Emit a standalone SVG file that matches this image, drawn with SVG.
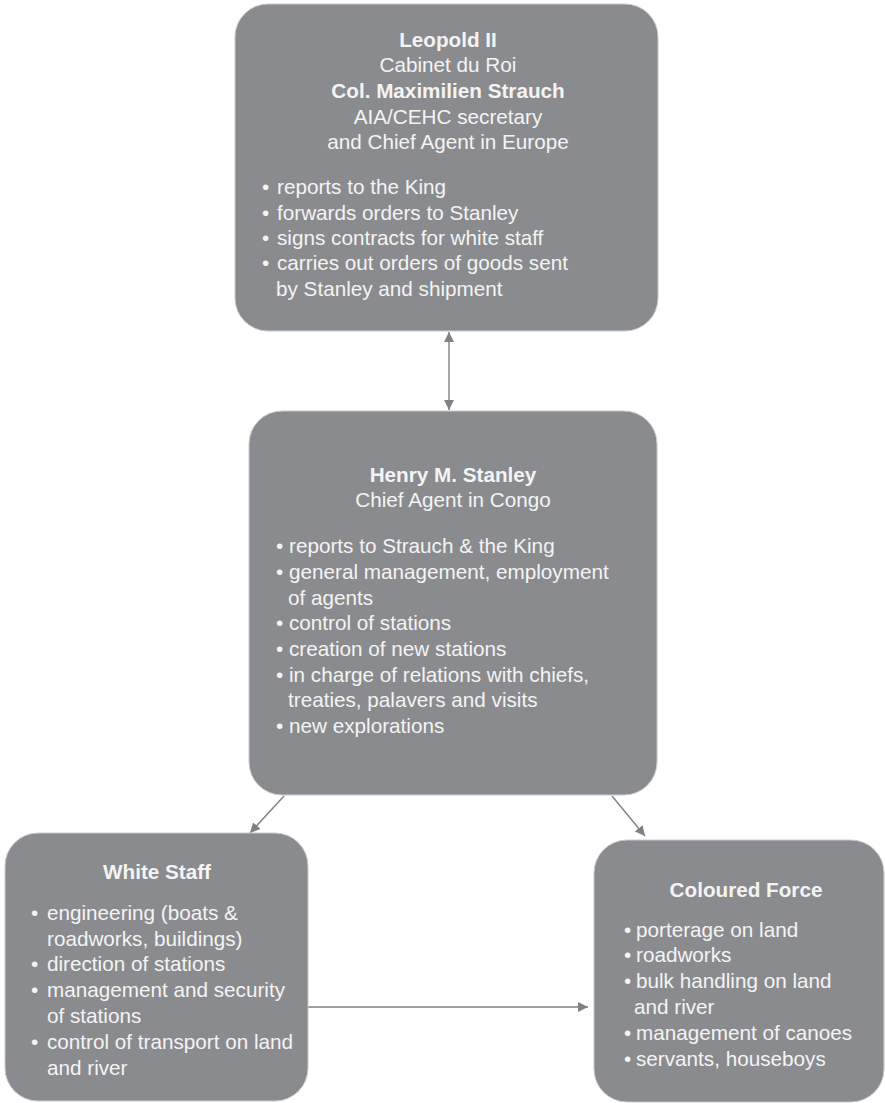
<svg xmlns="http://www.w3.org/2000/svg" width="885" height="1103" viewBox="0 0 885 1103">
<style>
.box{fill:#8a8b8e;stroke:#c9cacc;stroke-width:1}
text{font-family:"Liberation Sans",Arial,sans-serif;font-size:20.7px;fill:#f4f4f4}
.b{font-weight:bold}
.c{text-anchor:middle}
.con{stroke:#808184;stroke-width:1.4;fill:none}
</style>
<defs>
<marker id="ah" viewBox="0 0 10 10" refX="10" refY="5" markerWidth="10" markerHeight="10" markerUnits="userSpaceOnUse" orient="auto-start-reverse">
<path d="M0,0 L10,5 L0,10 z" fill="#808184"/>
</marker>
</defs>
<rect width="885" height="1103" fill="#ffffff"/>
<g id="connectors">
<line class="con" x1="449" y1="332" x2="449" y2="410" marker-start="url(#ah)" marker-end="url(#ah)"/>
<line class="con" x1="284" y1="796" x2="250" y2="833" marker-end="url(#ah)"/>
<line class="con" x1="612" y1="796" x2="645" y2="836" marker-end="url(#ah)"/>
<line class="con" x1="308" y1="1007" x2="588" y2="1007" marker-end="url(#ah)"/>
</g>
<g id="leopold">
<rect class="box" x="235" y="4" width="423" height="327" rx="33"/>
<text class="b c" x="448" y="47">Leopold II</text>
<text class="c" x="448" y="72">Cabinet du Roi</text>
<text class="b c" x="448" y="98">Col. Maximilien Strauch</text>
<text class="c" x="448" y="124">AIA/CEHC secretary</text>
<text class="c" x="448" y="149">and Chief Agent in Europe</text>
<text x="262" y="194">•</text><text x="277" y="194">reports to the King</text>
<text x="262" y="220">•</text><text x="277" y="220">forwards orders to Stanley</text>
<text x="262" y="245">•</text><text x="277" y="245">signs contracts for white staff</text>
<text x="262" y="270">•</text><text x="277" y="270">carries out orders of goods sent</text>
<text x="276" y="296">by Stanley and shipment</text>
</g>
<g id="stanley">
<rect class="box" x="249" y="411" width="408" height="384" rx="33"/>
<text class="b c" x="453" y="482">Henry M. Stanley</text>
<text class="c" x="453" y="507">Chief Agent in Congo</text>
<text x="276" y="553">•</text><text x="289" y="553">reports to Strauch &amp; the King</text>
<text x="276" y="579">•</text><text x="289" y="579">general management, employment</text>
<text x="288" y="605">of agents</text>
<text x="276" y="630">•</text><text x="289" y="630">control of stations</text>
<text x="276" y="656">•</text><text x="289" y="656">creation of new stations</text>
<text x="276" y="682">•</text><text x="289" y="682">in charge of relations with chiefs,</text>
<text x="288" y="707">treaties, palavers and visits</text>
<text x="276" y="733">•</text><text x="289" y="733">new explorations</text>
</g>
<g id="white-staff">
<rect class="box" x="5" y="833" width="303" height="268" rx="33"/>
<text class="b c" x="157" y="879">White Staff</text>
<text x="31" y="920">•</text><text x="47" y="920">engineering (boats &amp;</text>
<text x="47" y="946">roadworks, buildings)</text>
<text x="31" y="971">•</text><text x="47" y="971">direction of stations</text>
<text x="31" y="997">•</text><text x="47" y="997">management and security</text>
<text x="47" y="1023">of stations</text>
<text x="31" y="1049">•</text><text x="47" y="1049">control of transport on land</text>
<text x="47" y="1075">and river</text>
</g>
<g id="coloured-force">
<rect class="box" x="594" y="840" width="290" height="262" rx="33"/>
<text class="b c" x="746" y="897">Coloured Force</text>
<text x="624" y="937">•</text><text x="636" y="937">porterage on land</text>
<text x="624" y="962">•</text><text x="636" y="962">roadworks</text>
<text x="624" y="988">•</text><text x="636" y="988">bulk handling on land</text>
<text x="634" y="1014">and river</text>
<text x="624" y="1040">•</text><text x="636" y="1040">management of canoes</text>
<text x="624" y="1066">•</text><text x="636" y="1066">servants, houseboys</text>
</g>
</svg>
